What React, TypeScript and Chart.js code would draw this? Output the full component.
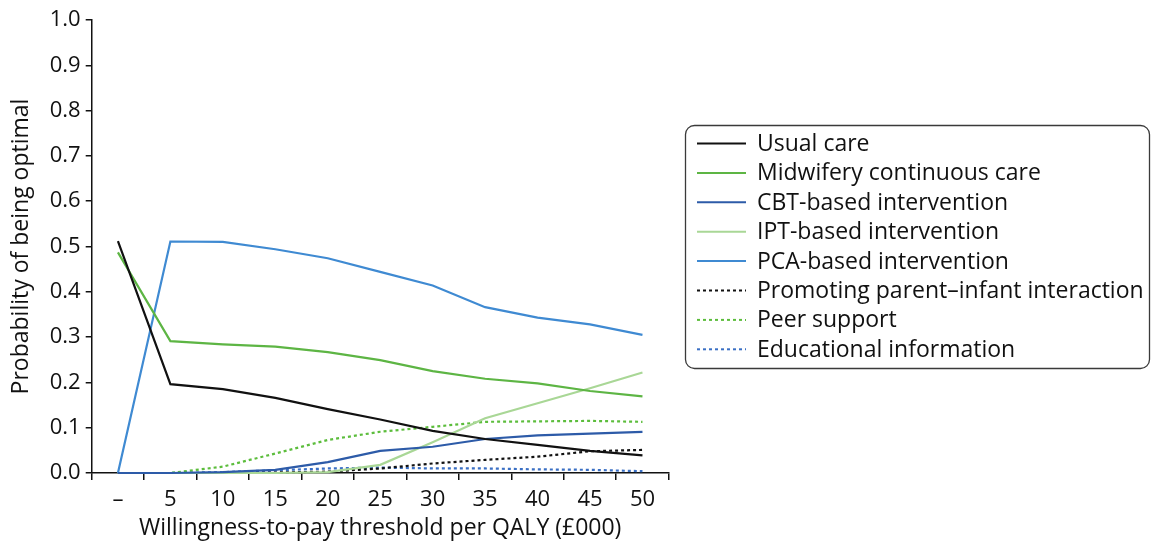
import { useEffect, useRef } from 'react';
import { Chart, registerables } from 'chart.js';

Chart.register(...registerables);

const categories = ['–', '5', '10', '15', '20', '25', '30', '35', '40', '45', '50'];
const yTicks = [0, 0.1, 0.2, 0.3, 0.4, 0.5, 0.6, 0.7, 0.8, 0.9, 1.0];

const usualCare = [0.512, 0.196, 0.185, 0.166, 0.141, 0.118, 0.093, 0.075, 0.062, 0.049, 0.039];
const midwifery = [0.487, 0.291, 0.284, 0.279, 0.267, 0.249, 0.225, 0.208, 0.198, 0.181, 0.169];
const cbt = [0, 0, 0.002, 0.007, 0.024, 0.049, 0.058, 0.075, 0.083, 0.087, 0.091];
const ipt = [0, 0, 0, 0, 0.002, 0.018, 0.068, 0.121, 0.154, 0.187, 0.222];
const pca = [0, 0.511, 0.51, 0.494, 0.474, 0.444, 0.414, 0.366, 0.343, 0.328, 0.305];
const promoting = [0, 0, 0, 0.001, 0.003, 0.01, 0.021, 0.029, 0.036, 0.048, 0.051];
const peerSupport = [0, 0, 0.014, 0.043, 0.073, 0.091, 0.102, 0.113, 0.114, 0.115, 0.113];
const educational = [0, 0, 0.002, 0.006, 0.01, 0.012, 0.01, 0.01, 0.008, 0.007, 0.004];

const FONT = '"Open Sans", "Noto Sans", sans-serif';
const TEXT_SIZE = 23;
const TICK_SIZE = 22;

const boxLegend = {
  id: 'boxLegend',
  afterDraw(chart: any) {
    const ctx = chart.ctx;
    ctx.save();
    ctx.beginPath();
    ctx.setLineDash([]);
    ctx.roundRect(685.5, 125.5, 464, 243, 9);
    ctx.strokeStyle = '#3a3a3a';
    ctx.lineWidth = 1.3;
    ctx.stroke();
    chart.data.datasets.forEach((ds: any, i: number) => {
      const y = 143.5 + i * 29.4;
      ctx.beginPath();
      ctx.setLineDash(ds.borderDash || []);
      ctx.strokeStyle = ds.borderColor;
      ctx.lineWidth = 2;
      ctx.moveTo(697, y);
      ctx.lineTo(746, y);
      ctx.stroke();
      ctx.setLineDash([]);
      ctx.fillStyle = '#111';
      ctx.font = `${TEXT_SIZE}px ${FONT}`;
      ctx.textBaseline = 'middle';
      ctx.textAlign = 'left';
      ctx.fillText(ds.label, 757, y + 1);
    });
    ctx.restore();
  },
};

export default function App() {
  const ref = useRef<HTMLCanvasElement>(null);
  useEffect(() => {
    const mk = (label: string, data: number[], color: string, dash: number[] = []) => ({
      label,
      data,
      borderColor: color,
      backgroundColor: color,
      borderWidth: 2.2,
      borderDash: dash,
      pointRadius: 0,
      tension: 0,
      fill: false,
      clip: 4,
    });
    const chart = new Chart(ref.current!, {
      type: 'line',
      data: {
        labels: categories,
        datasets: [
          mk('Usual care', usualCare, '#111111'),
          mk('Midwifery continuous care', midwifery, '#5db544'),
          mk('CBT-based intervention', cbt, '#2d5ba8'),
          mk('IPT-based intervention', ipt, '#a9d796'),
          mk('PCA-based intervention', pca, '#3f8ad2'),
          mk('Promoting parent–infant interaction', promoting, '#111111', [3, 3]),
          mk('Peer support', peerSupport, '#5cbd3c', [3, 3]),
          mk('Educational information', educational, '#3a6fc4', [3, 3]),
        ],
      },
      options: {
        responsive: false,
        animation: false,
        layout: { padding: { left: 0, right: 484.3, top: 20, bottom: 0 } },
        plugins: { legend: { display: false }, tooltip: { enabled: false } },
        scales: {
          x: {
            type: 'category',
            offset: true,
            afterFit: (s: any) => { s.height = 69; },
            grid: { offset: true, drawOnChartArea: false, drawTicks: true, tickLength: 7, color: '#111', lineWidth: 1.5 },
            border: { display: true, color: '#111', width: 1.5 },
            ticks: { color: '#111', font: { family: FONT, size: TICK_SIZE }, padding: 7, maxRotation: 0, autoSkip: false },
            title: {
              display: true,
              text: 'Willingness-to-pay threshold per QALY (£000)',
              color: '#111',
              font: { family: FONT, size: TEXT_SIZE },
              padding: { top: 0, bottom: 0 },
            },
          },
          y: {
            min: 0,
            max: 1,
            afterFit: (s: any) => { s.width = 91.7; },
            afterBuildTicks: (s: any) => { s.ticks = yTicks.map((v) => ({ value: v })); },
            grid: { drawOnChartArea: false, drawTicks: true, tickLength: 6, color: '#111', lineWidth: 1.5 },
            border: { display: true, color: '#111', width: 1.5 },
            ticks: {
              color: '#111',
              font: { family: FONT, size: TICK_SIZE },
              padding: 5,
              callback: (v: any) => Number(v).toFixed(1),
            },
            title: {
              display: true,
              text: 'Probability of being optimal',
              color: '#111',
              font: { family: FONT, size: TEXT_SIZE },
              padding: { top: 8, bottom: 0 },
            },
          },
        },
      },
      plugins: [boxLegend],
    } as any);
    return () => chart.destroy();
  }, []);
  return (
    <div style={{ position: 'absolute', left: 0, top: 0, width: 1153, height: 542 }}>
      <canvas ref={ref} width={1153} height={542} style={{ display: 'block' }} />
    </div>
  );
}
